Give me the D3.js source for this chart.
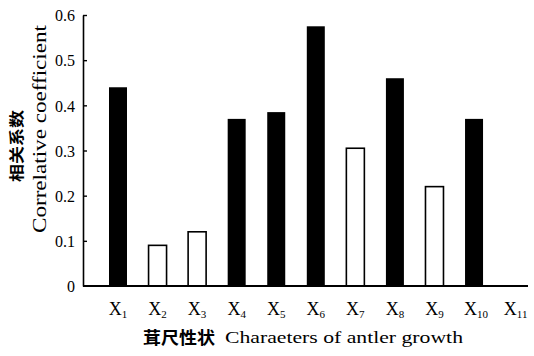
<!DOCTYPE html>
<html>
<head>
<meta charset="utf-8">
<script src="https://cdn.jsdelivr.net/npm/d3@7"></script>
<style>
  html, body { margin: 0; padding: 0; background: #fff; }
  svg { display: block; }
</style>
</head>
<body>
<svg id="chart" width="534" height="356"></svg>
<script>
// ---- data ----
const categories = ["1","2","3","4","5","6","7","8","9","10","11"];
const values     = [0.44, 0.09, 0.12, 0.37, 0.385, 0.575, 0.305, 0.46, 0.22, 0.37, 0];
const filled     = [true, false, false, true, true, true, false, true, false, true, true];
const yTicks     = [0, 0.1, 0.2, 0.3, 0.4, 0.5, 0.6];
const xTitleCn   = "茸尺性状";
const xTitleEn   = "Charaeters of antler growth";
const yTitleCn   = "相关系数";
const yTitleEn   = "Correlative coefficient";

const svg = d3.select("#chart");
const serif = "'Liberation Serif','Times New Roman',serif";
const cjk = "'Noto Sans CJK SC','Noto Sans CJK JP',sans-serif";

const axisX = 83, baseY = 286, topY = 15, endX = 528;

const y = d3.scaleLinear().domain([0, 0.6]).range([baseY, topY]);
const step = 39.56;
const x = d3.scaleBand()
  .domain(categories)
  .range([109, 109 + step * (categories.length - 0.545)])
  .paddingInner(0.545)
  .paddingOuter(0);

// bars
svg.append("g").selectAll("rect")
  .data(categories.map((c, i) => ({c, v: values[i], f: filled[i]})).filter(d => d.v > 0))
  .join("rect")
  .attr("x", d => x(d.c))
  .attr("width", x.bandwidth())
  .attr("y", d => y(d.v))
  .attr("height", d => y(0) - y(d.v))
  .attr("fill", d => d.f ? "#000" : "#fff")
  .attr("stroke", "#000")
  .attr("stroke-width", d => d.f ? 0 : 1.6);

// y axis
const yAxis = svg.append("g")
  .attr("transform", `translate(${axisX},0)`)
  .call(d3.axisLeft(y).tickValues(yTicks).tickSizeInner(-4).tickSizeOuter(0).tickPadding(8)
    .tickFormat(d => d === 0 ? "0" : d3.format(".1f")(d)));
yAxis.select(".domain").attr("stroke-width", 1.6);
yAxis.selectAll(".tick line").attr("stroke-width", 1.4)
  .filter(d => d === 0).remove();
yAxis.selectAll(".tick text")
  .attr("font-family", serif).attr("font-size", 16).attr("fill", "#000")
  .attr("dy", "0.36em");

// x baseline
svg.append("line")
  .attr("x1", axisX).attr("x2", endX)
  .attr("y1", y(0)).attr("y2", y(0))
  .attr("stroke", "#000").attr("stroke-width", 1.8);

// x tick labels X with subscript
const xl = svg.append("g").selectAll("text")
  .data(categories)
  .join("text")
  .attr("x", d => x(d) + x.bandwidth() / 2 + (d.length > 1 ? 2 : 0))
  .attr("y", 315)
  .attr("text-anchor", "middle")
  .attr("font-family", serif)
  .attr("fill", "#000");
xl.append("tspan").attr("font-size", 18).text("X");
xl.append("tspan").attr("font-size", 11).attr("dy", 3).text(d => d);

// x title
const xt = svg.append("g");
xt.append("text")
  .attr("x", 143).attr("y", 344)
  .attr("font-family", cjk).attr("font-size", 17).attr("font-weight", 700)
  .attr("textLength", 72).attr("lengthAdjust", "spacingAndGlyphs")
  .text(xTitleCn);
xt.append("text")
  .attr("x", 225).attr("y", 343)
  .attr("font-family", serif).attr("font-size", 17)
  .attr("textLength", 238).attr("lengthAdjust", "spacingAndGlyphs")
  .text(xTitleEn);

// y titles
svg.append("text")
  .attr("transform", "translate(22,146) rotate(-90)")
  .attr("text-anchor", "middle")
  .attr("font-family", cjk).attr("font-size", 15).attr("font-weight", 700)
  .attr("textLength", 72).attr("lengthAdjust", "spacingAndGlyphs")
  .text(yTitleCn);
svg.append("text")
  .attr("transform", "translate(46,129) rotate(-90)")
  .attr("text-anchor", "middle")
  .attr("font-family", serif).attr("font-size", 18)
  .attr("textLength", 208).attr("lengthAdjust", "spacingAndGlyphs")
  .text(yTitleEn);
</script>
</body>
</html>
